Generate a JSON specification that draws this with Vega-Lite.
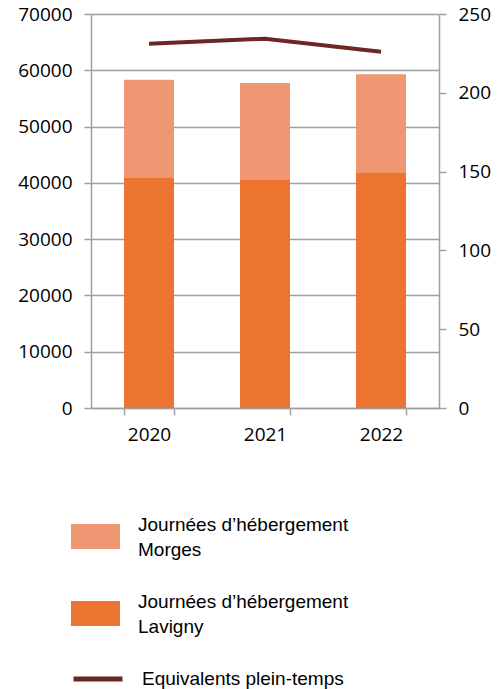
{
  "$schema": "https://vega.github.io/schema/vega-lite/v6.json",
  "width": 348,
  "height": 394,
  "autosize": {"type": "none"},
  "padding": {"left": 91, "top": 14, "right": 61, "bottom": 281},
  "background": "white",
  "config": {
    "view": {"stroke": null},
    "font": "Open Sans",
    "axis": {
      "labelFont": "Open Sans",
      "labelFontSize": 19,
      "labelColor": "#000000",
      "domainColor": "#A0A0A0",
      "tickColor": "#A0A0A0",
      "gridColor": "#A0A0A0",
      "domainWidth": 1.5,
      "tickWidth": 1.5,
      "gridWidth": 1.5,
      "tickSize": 7,
      "title": null
    }
  },
  "datasets": {
    "bars": [
      {"year": "2020", "site": "Lavigny", "days": 41000},
      {"year": "2020", "site": "Morges", "days": 17300},
      {"year": "2021", "site": "Lavigny", "days": 40500},
      {"year": "2021", "site": "Morges", "days": 17250},
      {"year": "2022", "site": "Lavigny", "days": 41900},
      {"year": "2022", "site": "Morges", "days": 17400}
    ],
    "fte": [
      {"year": "2020", "fte": 231.2},
      {"year": "2021", "fte": 234.3},
      {"year": "2022", "fte": 226.1}
    ]
  },
  "layer": [
    {
      "data": {"name": "bars"},
      "mark": {"type": "bar", "size": 50},
      "encoding": {
        "x": {
          "field": "year",
          "type": "ordinal",
          "scale": {"paddingInner": 0.57, "paddingOuter": 0.285},
          "axis": {"labelAngle": 0, "tickBand": "extent", "labelPadding": 10, "grid": false, "title": null}
        },
        "y": {
          "field": "days",
          "type": "quantitative",
          "stack": "zero",
          "scale": {"domain": [0, 70000], "nice": false},
          "axis": {"values": [0, 10000, 20000, 30000, 40000, 50000, 60000, 70000], "format": "d", "labelPadding": 12, "grid": true, "title": null}
        },
        "color": {
          "field": "site",
          "type": "nominal",
          "scale": {"domain": ["Morges", "Lavigny"], "range": ["#EF9773", "#ED7331"]},
          "legend": {
            "orient": "none",
            "legendX": -20,
            "legendY": 498,
            "direction": "vertical",
            "title": null,
            "padding": 0,
            "symbolType": "M-1,-0.51H1V0.51H-1Z",
            "symbolSize": 2401,
            "symbolStrokeWidth": 0,
            "symbolOpacity": 1,
            "labelFont": "Liberation Sans",
            "labelFontSize": 19,
            "labelColor": "#000000",
            "labelOffset": 18,
            "labelLimit": 400,
            "rowPadding": 29,
            "labelExpr": "['Journées d’hébergement', datum.label]",
            "encoding": {"labels": {"lineHeight": {"value": 25}, "dy": {"value": -12}}}
          }
        },
        "order": {"field": "site", "sort": "ascending"}
      }
    },
    {
      "data": {"name": "fte"},
      "mark": {"type": "line", "strokeWidth": 4},
      "encoding": {
        "x": {"field": "year", "type": "ordinal"},
        "y": {
          "field": "fte",
          "type": "quantitative",
          "scale": {"domain": [0, 250], "nice": false},
          "axis": {"orient": "right", "values": [0, 50, 100, 150, 200, 250], "grid": false, "labelPadding": 12, "title": null}
        },
        "stroke": {
          "datum": "Equivalents plein-temps",
          "scale": {"range": ["#6B2625"]},
          "legend": {
            "orient": "none",
            "legendX": -20,
            "legendY": 638,
            "title": null,
            "padding": 0,
            "symbolType": "stroke",
            "symbolSize": 2401,
            "symbolStrokeWidth": 5,
            "labelFont": "Liberation Sans",
            "labelFontSize": 19,
            "labelColor": "#000000",
            "labelOffset": 17,
            "labelLimit": 400
          }
        }
      }
    }
  ],
  "resolve": {"scale": {"y": "independent", "color": "independent", "stroke": "independent"}}
}
